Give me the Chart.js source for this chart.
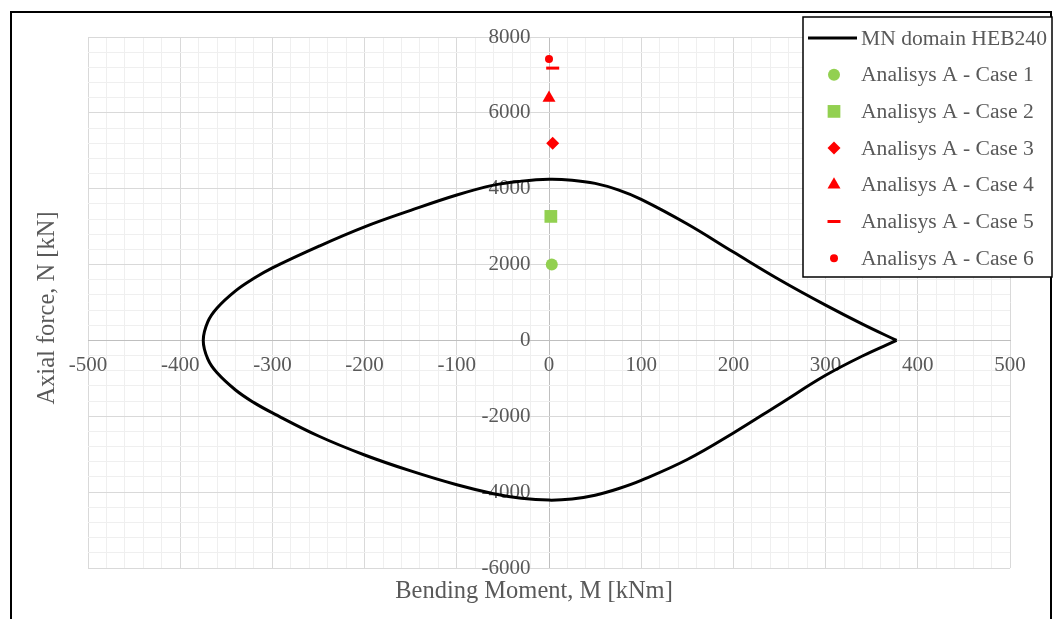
<!DOCTYPE html>
<html>
<head>
<meta charset="utf-8">
<script src="https://cdn.jsdelivr.net/npm/chart.js@4.4.0/dist/chart.umd.min.js"></script>
<style>
  html, body { margin: 0; padding: 0; background: #fff; }
  #wrap { position: relative; width: 1054px; height: 619px; overflow: hidden; }
  #frame { position: absolute; left: 10px; top: 11px; width: 1042px; height: 640px; border: 2px solid #000; box-sizing: border-box; }
  #chart { position: absolute; left: 0; top: 0; }
</style>
</head>
<body>
<div id="wrap">
  <div id="frame"></div>
  <canvas id="chart" width="1054" height="619"></canvas>
</div>
<script>
// MN interaction domain (bending moment kNm / axial force kN), walked round from the right-hand corner
const domainM = [377, 340, 300, 250, 200, 150, 100, 75, 50, 25, 0,
                 -30, -60, -100, -150, -200, -250, -300, -320, -340, -360, -370, -375,
                 -370, -360, -340, -320, -300, -250, -200, -150, -100, -60, -30, 0,
                 25, 50, 75, 100, 150, 200, 250, 300, 340, 377];
const domainN = [0, 430, 930, 1600, 2330, 3070, 3720, 3970, 4140, 4225, 4250,
                 4200, 4095, 3835, 3430, 2995, 2480, 1913, 1638, 1307, 855, 494, 0,
                 -494, -855, -1307, -1640, -1910, -2520, -3020, -3440, -3805, -4040, -4160, -4210,
                 -4180, -4080, -3910, -3690, -3140, -2440, -1680, -920, -410, 0];

// analysis cases
const caseNames = ['Analisys A - Case 1', 'Analisys A - Case 2', 'Analisys A - Case 3',
                   'Analisys A - Case 4', 'Analisys A - Case 5', 'Analisys A - Case 6'];
const caseM = [3, 2, 4, 0, 4, 0];
const caseN = [2000, 3270, 5200, 6390, 7180, 7420];

const domainName = 'MN domain HEB240';
const xTitle = 'Bending Moment, M [kNm]';
const yTitle = 'Axial force, N [kN]';

const FONT = "'Liberation Serif', 'Times New Roman', serif";
const TEXT = '#595959';
const GREEN = '#92d050';
const RED = '#ff0000';

const markers = [
  { color: GREEN, style: 'circle', radius: 6 },
  { color: GREEN, style: 'rect', radius: 9 },
  { color: RED, style: 'rectRot', radius: 6.5 },
  { color: RED, style: 'triangle', radius: 7.5 },
  { color: RED, style: 'line', radius: 6.5, border: 3 },
  { color: RED, style: 'circle', radius: 4 }
];

const datasets = [{
  label: domainName,
  data: domainM.map((m, i) => ({ x: m, y: domainN[i] })),
  showLine: true,
  borderColor: '#000',
  borderWidth: 3,
  pointRadius: 0,
  tension: 0.4,
  fill: false
}];
caseNames.forEach((name, i) => {
  const mk = markers[i];
  datasets.push({
    label: name,
    data: [{ x: caseM[i], y: caseN[i] }],
    pointStyle: mk.style,
    pointRadius: mk.radius,
    backgroundColor: mk.color,
    borderColor: mk.color,
    pointBorderWidth: mk.border || 0,
    showLine: false
  });
});

// legend box + axis titles drawn on the canvas
const extras = {
  id: 'extras',
  afterDraw(chart) {
    const ctx = chart.ctx;
    ctx.save();
    ctx.fillStyle = TEXT;
    ctx.font = '24.5px ' + FONT;
    ctx.textAlign = 'center';
    ctx.textBaseline = 'middle';
    ctx.fillText(xTitle, 534, 592);
    ctx.translate(48, 308);
    ctx.rotate(-Math.PI / 2);
    ctx.fillText(yTitle, 0, 0);
    ctx.restore();

    // legend
    const lx = 803, ly = 17, lw = 249, lh = 260;
    ctx.save();
    ctx.fillStyle = '#fff';
    ctx.fillRect(lx, ly, lw, lh);
    ctx.strokeStyle = '#000';
    ctx.lineWidth = 1.5;
    ctx.strokeRect(lx, ly, lw, lh);
    const rowH = 36.7;
    let y = 38;
    ctx.font = '21.6px ' + FONT;
    ctx.textBaseline = 'middle';
    ctx.textAlign = 'left';
    chart.data.datasets.forEach((ds, i) => {
      if (i === 0) {
        ctx.strokeStyle = '#000';
        ctx.lineWidth = 3;
        ctx.beginPath();
        ctx.moveTo(808, y);
        ctx.lineTo(857, y);
        ctx.stroke();
      } else {
        const mk = markers[i - 1];
        ctx.fillStyle = mk.color;
        ctx.strokeStyle = mk.color;
        ctx.lineWidth = mk.border || 0;
        Chart.helpers.drawPoint(ctx, { pointStyle: mk.style, radius: mk.radius, borderWidth: mk.border || 0, rotation: 0 }, 834, y);
      }
      ctx.fillStyle = TEXT;
      ctx.fillText(ds.label, 861, y + 1);
      y += rowH;
    });
    ctx.restore();
  }
};

new Chart(document.getElementById('chart'), {
  type: 'scatter',
  data: { datasets: datasets },
  options: {
    responsive: false,
    animation: false,
    layout: { padding: { left: 88, top: 37, right: 44, bottom: 51 } },
    plugins: {
      legend: { display: false },
      tooltip: { enabled: false }
    },
    scales: {
      x: {
        type: 'linear',
        position: { y: 0 },
        min: -500,
        max: 500,
        grid: {
          drawTicks: false,
          lineWidth: 1,
          color: ctx => {
            const v = ctx.tick ? ctx.tick.value : 1;
            if (v === 0) return '#bfbfbf';
            return v % 100 === 0 ? '#d9d9d9' : '#efefef';
          }
        },
        border: { color: '#bfbfbf', width: 1 },
        ticks: {
          stepSize: 20,
          maxTicksLimit: 200,
          autoSkip: false,
          maxRotation: 0,
          padding: 12,
          color: TEXT,
          font: { family: FONT, size: 21 },
          callback: v => (v % 100 === 0 ? String(v) : '')
        }
      },
      y: {
        type: 'linear',
        // labels sit just left of the M = 0 line; the line itself is the x grid line at 0
        position: { x: -20 },
        min: -6000,
        max: 8000,
        grid: {
          drawTicks: false,
          lineWidth: 1,
          color: ctx => {
            const v = ctx.tick ? ctx.tick.value : 1;
            if (v === 0) return '#bfbfbf';
            return v % 2000 === 0 ? '#d9d9d9' : '#efefef';
          }
        },
        border: { display: false },
        ticks: {
          stepSize: 400,
          maxTicksLimit: 200,
          autoSkip: false,
          color: TEXT,
          font: { family: FONT, size: 21 },
          callback: v => (v % 2000 === 0 ? String(v) : '')
        }
      }
    }
  },
  plugins: [extras]
});
</script>
</body>
</html>
